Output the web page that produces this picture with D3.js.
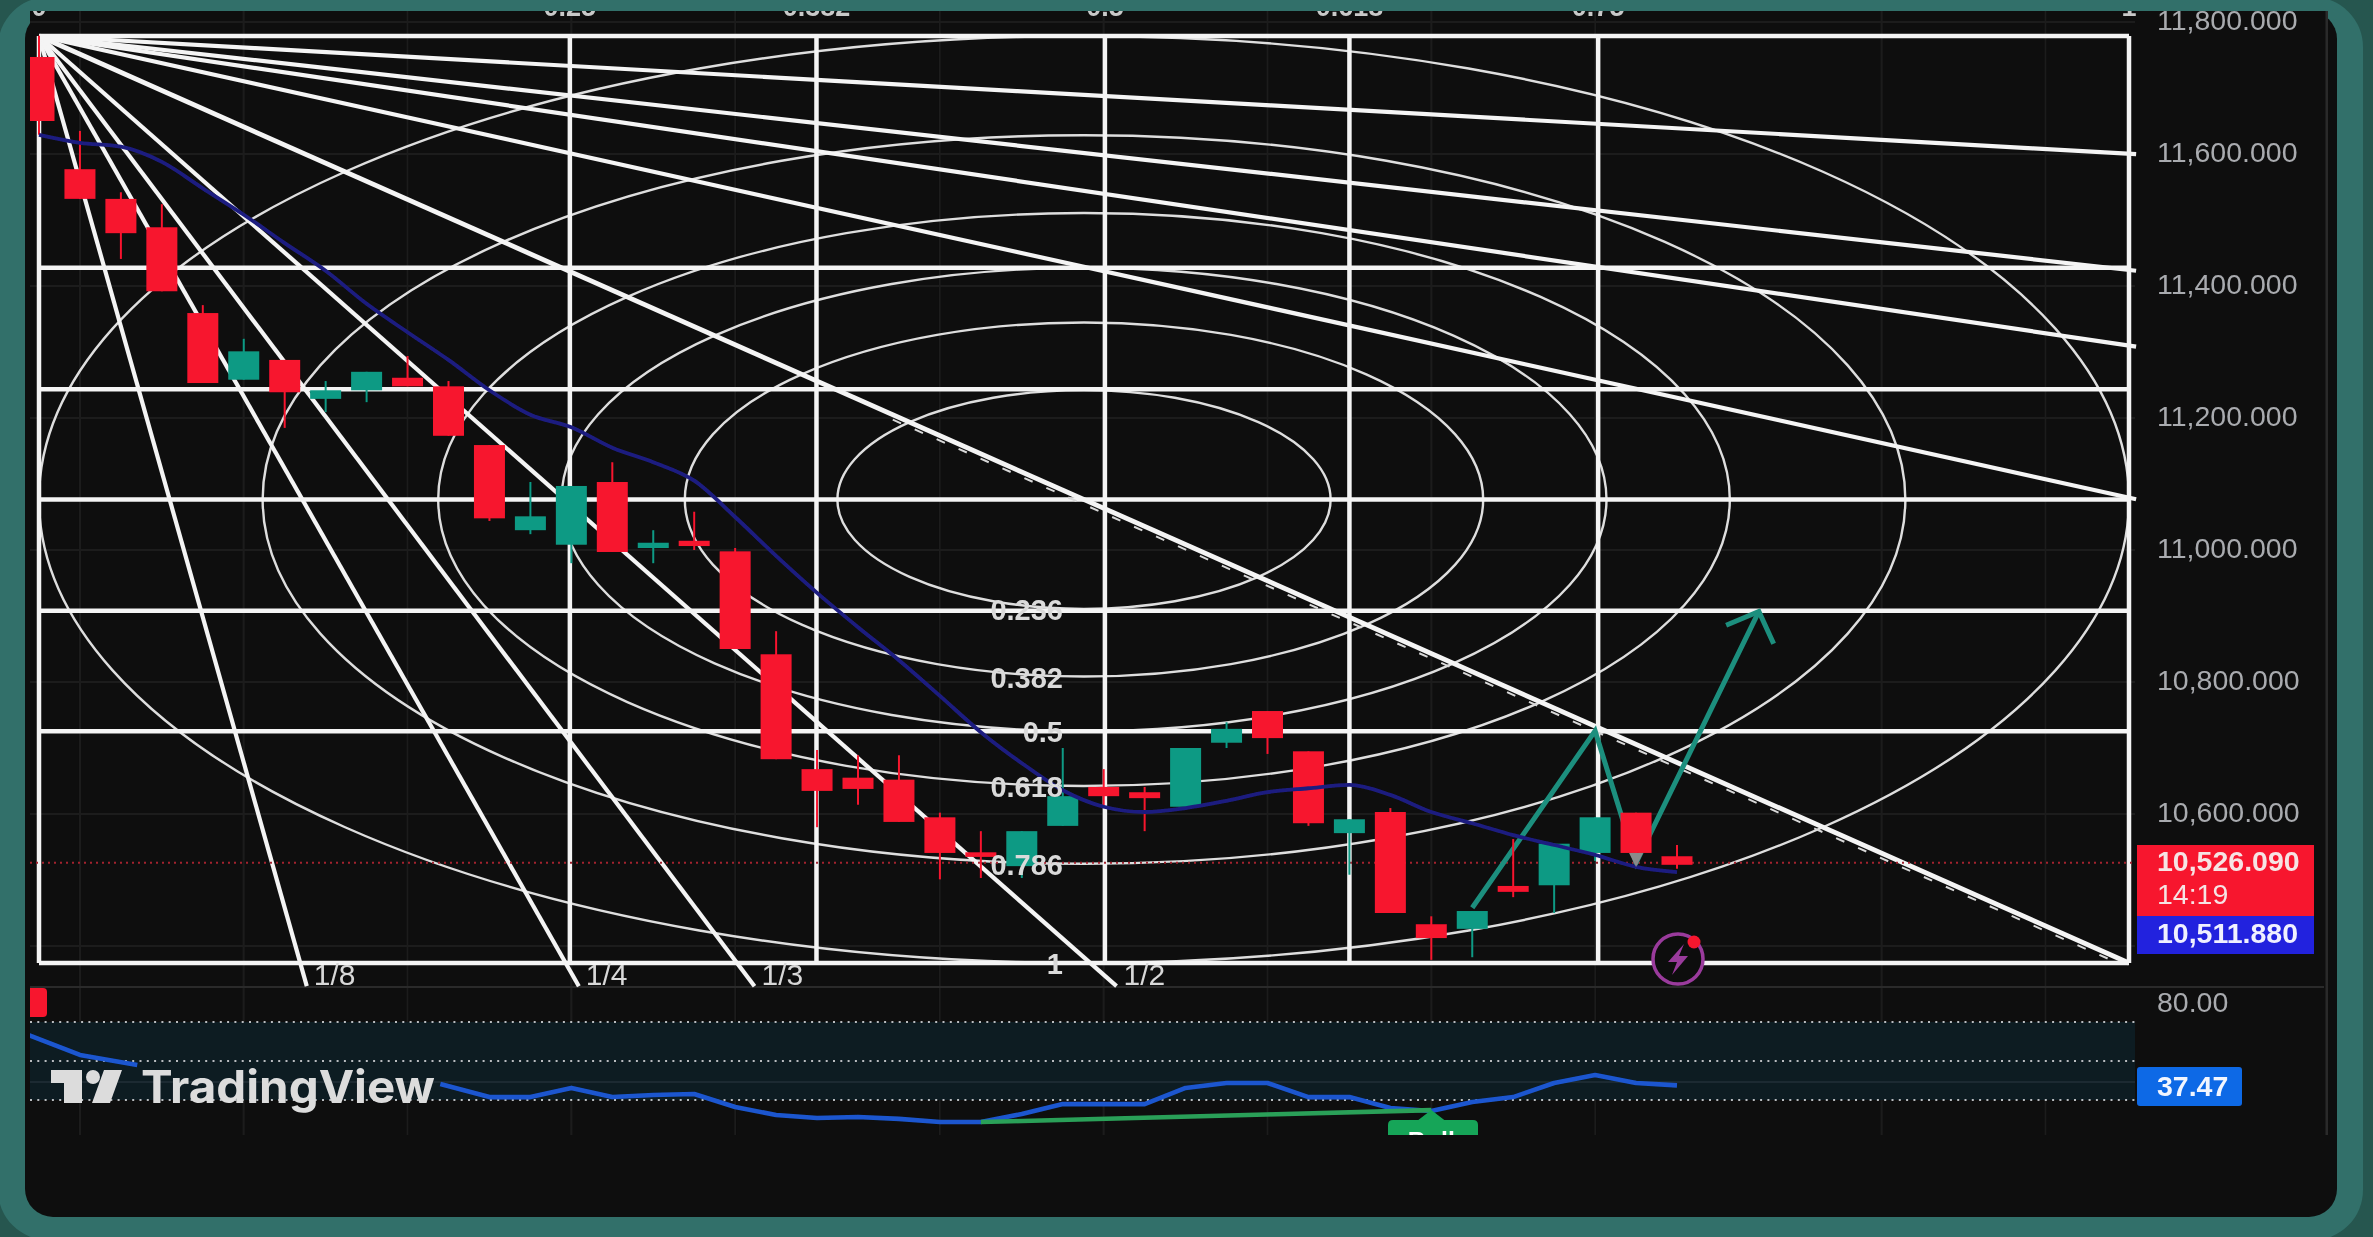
<!DOCTYPE html>
<html>
<head>
<meta charset="utf-8">
<script src="https://cdn.jsdelivr.net/npm/d3@7/dist/d3.min.js"></script>
<style>
  html, body { margin: 0; padding: 0; background: #26564f; overflow: hidden; }
  svg { display: block; }
  text { font-family: "Liberation Sans", sans-serif; }
</style>
</head>
<body>
<svg id="chart" width="2373" height="1237"></svg>
<script>
// candles, oldest first
const opens  = [11747,11577,11532,11489,11359,11258,11288,11229,11242,11261,11248,11159,11030,11008,11103,11003,11014,10998,10842,10668,10655,10652,10595,10542,10521,10582,10641,10633,10611,10708,10756,10695,10571,10603,10433,10426,10491,10492,10541,10602,10536];
const highs  = [11779,11635,11542,11524,11371,11320,11288,11256,11270,11294,11256,11159,11103,11097,11133,11030,11058,11003,10877,10697,10689,10689,10602,10574,10574,10700,10668,10641,10700,10739,10756,10695,10592,10609,10445,10453,10562,10555,10595,10602,10553];
const lows   = [11629,11532,11441,11392,11253,11258,11185,11209,11224,11248,11173,11044,11024,10980,10997,10980,11000,10850,10683,10580,10614,10588,10501,10503,10503,10582,10609,10574,10611,10700,10691,10582,10508,10450,10379,10383,10474,10450,10529,10521,10517];
const closes = [11650,11532,11480,11392,11253,11301,11239,11242,11270,11248,11173,11048,11051,11097,10997,11011,11006,10850,10683,10635,10638,10588,10541,10535,10574,10627,10627,10624,10700,10729,10715,10586,10592,10450,10412,10453,10482,10555,10595,10541,10523];
const maValues = [11629,11617,11611,11588,11548,11508,11465,11423,11373,11330,11288,11242,11205,11186,11155,11133,11105,11050,10991,10935,10883,10833,10779,10724,10677,10636,10611,10603,10609,10620,10633,10639,10644,10629,10603,10586,10568,10553,10538,10520,10512];

// rsi pane, null where the logo covers the line
const rsiBars   = [-0.25,1,2.4,null,9.8,11,12,13,14,15,16,17,18,19,20,21,22,23,24,25,26,27,28,29,30,31,32,33,34,35,36,37,38,39,40];
const rsiValues = [63.3,53.1,47.9,null,38.2,31.5,31.5,36.2,31.5,32.6,33.1,26.4,22.3,20.8,21.3,20.3,18.7,18.7,22.8,27.9,27.9,27.9,36.2,38.7,38.7,31.5,31.5,25.9,24.4,29.0,31.5,38.7,42.8,38.7,37.5];
const rsiBands = [70, 50, 30];

const priceTicks = [11800,11600,11400,11200,11000,10800,10600];
const priceGrid = [11800,11600,11400,11200,11000,10800,10600,10400];
const barGrid = [1,5,9,13,17,22,26,30,34,38,45,49];

// gann box
const boxTimeLevels  = [0,0.254,0.372,0.51,0.627,0.746,1];
const boxTimeLabels  = ["0","0.25","0.382","0.5","0.618","0.75","1"];
const boxPriceLevels = [0,0.25,0.381,0.5,0.62,0.75,1];
const fanBottomLevels = [0.125,0.252,0.334,0.503];
const fanRightLevels = [0.127,0.2524,0.334,0.498];
const fanLabels = ["1/8","1/4","1/3","1/2"];
const circleLevels = [0.236,0.382,0.5,0.618,0.786,1];
const circleLabels = ["0.236","0.382","0.5","0.618","0.786","1"];

// hand drawn arrow: [bar, price]
const arrowPath = [[35,10458],[38,10726],[39,10526],[42,10907]];
const arrowHead = [[41.2,10886],[42,10907],[42.36,10858]];
const divergence = [[23,18.7],[34,24.8]];

const C_UP = "#0b9a84";
const C_DOWN = "#f7142e";
const C_PANEL = "#0e0e0e";
const C_GANN = "#f4f4f4";
const C_AXIS = "#a9abaf";

const svg = d3.select("#chart");

const x = d3.scaleLinear().domain([0, 40]).range([39, 1677]);
const y = d3.scaleLinear().domain([10600, 11800]).range([814, 22]);
const yRsi = d3.scaleLinear().domain([30, 70]).range([1100, 1022]);
const boxX = d3.scaleLinear().domain([0, 1]).range([39, 2129]);
const boxY = d3.scaleLinear().domain([0, 1]).range([36, 963]);

// ===== Frame =====
svg.append("rect").attr("x", -2).attr("y", -3).attr("width", 2365).attr("height", 1243).attr("rx", 50).attr("fill", "#32706a");
svg.append("rect").attr("x", 25).attr("y", 11).attr("width", 2312).attr("height", 1206).attr("rx", 28).attr("fill", C_PANEL);
svg.append("rect").attr("x", 30).attr("y", 11).attr("width", 2298).attr("height", 1140).attr("fill", C_PANEL);

const defs = svg.append("defs");
defs.append("filter").attr("id", "soft").attr("x", "-2%").attr("y", "-2%").attr("width", "104%").attr("height", "104%")
  .append("feGaussianBlur").attr("stdDeviation", 0.7);
defs.append("clipPath").attr("id", "pane").append("rect").attr("x", 30).attr("y", 11).attr("width", 2298).attr("height", 1124);

const g = svg.append("g").attr("filter", "url(#soft)").attr("clip-path", "url(#pane)");

// ===== Faint grid =====
const gridG = g.append("g").attr("stroke", "#1b1b1b").attr("stroke-width", 2);
gridG.selectAll("line.v").data(barGrid).join("line").attr("class", "v")
  .attr("x1", d => x(d)).attr("x2", d => x(d)).attr("y1", 11).attr("y2", 1135);
gridG.selectAll("line.h").data(priceGrid).join("line").attr("class", "h")
  .attr("x1", 30).attr("x2", 2135).attr("y1", d => y(d)).attr("y2", d => y(d));

// pane separator and right border
g.append("line").attr("x1", 30).attr("x2", 2324).attr("y1", 987).attr("y2", 987).attr("stroke", "#2a2a2a").attr("stroke-width", 2);
g.append("line").attr("x1", 2327).attr("x2", 2327).attr("y1", 11).attr("y2", 1135).attr("stroke", "#2c2c2c").attr("stroke-width", 3);

// ===== RSI pane =====
g.append("rect").attr("x", 30).attr("width", 2105)
  .attr("y", yRsi(70)).attr("height", yRsi(30) - yRsi(70)).attr("fill", "#0b1a24");
g.append("g").selectAll("line").data(rsiBands).join("line")
  .attr("x1", 30).attr("x2", 2135).attr("y1", d => yRsi(d)).attr("y2", d => yRsi(d))
  .attr("stroke", "#b9bcbf").attr("stroke-width", 2).attr("stroke-dasharray", "2,5.3");
g.append("line").attr("x1", 30).attr("x2", 2135).attr("y1", 1082).attr("y2", 1082).attr("stroke", "#1f2a30").attr("stroke-width", 2);
g.append("rect").attr("x", 24).attr("y", 988).attr("width", 23).attr("height", 29).attr("rx", 4).attr("fill", C_DOWN);

const rsiLine = d3.line().defined(d => d[0] != null).x(d => x(d[0])).y(d => yRsi(d[1]));
g.append("path").datum(rsiBars.map((b, i) => [b, rsiValues[i]])).attr("d", rsiLine)
  .attr("fill", "none").attr("stroke", "#1b57cf").attr("stroke-width", 4.6).attr("stroke-linejoin", "round");

g.append("path").datum(divergence).attr("d", d3.line().x(d => x(d[0])).y(d => yRsi(d[1])))
  .attr("fill", "none").attr("stroke", "#2aa058").attr("stroke-width", 4.6);

// bull tag, cut off by the pane bottom
const bull = g.append("g");
bull.append("path").attr("d", `M${x(34)},1110 L${x(34) + 13},1120 L1473,1120 Q1478,1120 1478,1125 L1478,1140 L1388,1140 L1388,1125 Q1388,1120 1393,1120 L${x(34) - 13},1120 Z`)
  .attr("fill", "#16a558");
bull.append("text").attr("x", x(34)).attr("y", 1150).attr("text-anchor", "middle")
  .attr("fill", "#fff").attr("font-size", 25).attr("font-weight", 700).text("Bull");

// ===== Gann box =====
const gann = g.append("g").attr("fill", "none").attr("stroke", C_GANN);

gann.selectAll("ellipse").data(circleLevels).join("ellipse")
  .attr("cx", boxX(0.5)).attr("cy", boxY(0.5))
  .attr("rx", d => (boxX(1) - boxX(0)) / 2 * d).attr("ry", d => (boxY(1) - boxY(0)) / 2 * d)
  .attr("stroke", "#dedede").attr("stroke-width", 2.4);

gann.selectAll("line.gv").data(boxTimeLevels).join("line").attr("class", "gv")
  .attr("x1", d => boxX(d)).attr("x2", d => boxX(d)).attr("y1", boxY(0)).attr("y2", boxY(1))
  .attr("stroke-width", 4.5);
gann.selectAll("line.gh").data(boxPriceLevels).join("line").attr("class", "gh")
  .attr("x1", boxX(0)).attr("x2", boxX(1)).attr("y1", d => boxY(d)).attr("y2", d => boxY(d))
  .attr("stroke-width", 4.5);

// fans to the bottom edge, slightly past the box
gann.selectAll("line.fb").data(fanBottomLevels).join("line").attr("class", "fb")
  .attr("x1", boxX(0)).attr("y1", boxY(0))
  .attr("x2", d => boxX(d * 1.025)).attr("y2", boxY(1.025))
  .attr("stroke-width", 4.2);
gann.selectAll("line.fr").data(fanRightLevels).join("line").attr("class", "fr")
  .attr("x1", boxX(0)).attr("y1", boxY(0))
  .attr("x2", boxX(1.0034)).attr("y2", d => boxY(d * 1.0034))
  .attr("stroke-width", 4.2);
gann.append("line").attr("x1", boxX(0)).attr("y1", boxY(0)).attr("x2", boxX(1)).attr("y2", boxY(1))
  .attr("stroke-width", 4.8);
gann.append("line").attr("x1", boxX(0.4085)).attr("y1", boxY(0.4085) + 5).attr("x2", boxX(0.995)).attr("y2", boxY(0.995) + 5)
  .attr("stroke-width", 2).attr("stroke-dasharray", "9,15").attr("stroke", "#d8d8d8");

// box labels
g.append("g").selectAll("text").data(boxTimeLevels).join("text")
  .attr("x", d => boxX(d)).attr("y", 16).attr("text-anchor", "middle")
  .attr("fill", "#c9c9c9").attr("font-size", 27).attr("font-weight", 700)
  .text((d, i) => boxTimeLabels[i]);
g.append("g").selectAll("text").data(fanBottomLevels).join("text")
  .attr("x", d => boxX(d * 1.025) + 7).attr("y", 985)
  .attr("fill", "#d8d8d8").attr("font-size", 30)
  .text((d, i) => fanLabels[i]);

// ===== Current price line =====
g.append("line").attr("x1", 30).attr("x2", 2135).attr("y1", y(10526.09)).attr("y2", y(10526.09))
  .attr("stroke", "#a3202f").attr("stroke-width", 2).attr("stroke-dasharray", "2,4");

// ===== Hand drawn arrow =====
const arrowLine = d3.line().x(d => x(d[0])).y(d => y(d[1]));
g.append("path").datum(arrowPath).attr("d", arrowLine).attr("fill", "none").attr("stroke", "#1d8f7e").attr("stroke-width", 5);
g.append("path").datum(arrowHead).attr("d", arrowLine).attr("fill", "none").attr("stroke", "#1d8f7e").attr("stroke-width", 5);

// ===== Candles =====
const candles = opens.map((o, i) => ({ i, o, h: highs[i], l: lows[i], c: closes[i] }));
const candleG = g.append("g").selectAll("g").data(candles).join("g")
  .attr("fill", d => d.c >= d.o ? C_UP : C_DOWN)
  .attr("stroke", d => d.c >= d.o ? C_UP : C_DOWN);
candleG.append("line")
  .attr("x1", d => x(d.i)).attr("x2", d => x(d.i))
  .attr("y1", d => y(d.h)).attr("y2", d => y(d.l))
  .attr("stroke-width", 2);
candleG.append("rect")
  .attr("x", d => x(d.i) - 15.5).attr("width", 31)
  .attr("y", d => y(Math.max(d.o, d.c)))
  .attr("height", d => Math.max(3, Math.abs(y(d.o) - y(d.c))))
  .attr("stroke", "none");

// ===== Moving average =====
g.append("path").datum(maValues)
  .attr("d", d3.line().x((d, i) => x(i)).y(d => y(d)).curve(d3.curveMonotoneX))
  .attr("fill", "none").attr("stroke", "#1d1d80").attr("stroke-width", 3.8);

// arrow tip poking out under the red candle
g.append("path").attr("d", `M${x(39) - 7},853 L${x(39) + 7},853 L${x(39)},867 Z`).attr("fill", "#8a8a8a");

// circle labels sit on top of everything
g.append("g").selectAll("text").data(circleLevels).join("text")
  .attr("x", 1063)
  .attr("y", d => boxY(0.5) + (boxY(1) - boxY(0)) / 2 * d + 11)
  .attr("text-anchor", "end")
  .attr("fill", "#dadada").attr("font-size", 29).attr("font-weight", 700)
  .text((d, i) => circleLabels[i]);

// ===== Flash icon =====
const flash = g.append("g");
flash.append("circle").attr("cx", 1678).attr("cy", 959).attr("r", 25).attr("fill", C_PANEL)
  .attr("stroke", "#9a3a9c").attr("stroke-width", 3.5);
flash.append("path").attr("d", "M1684,944 L1668,962 L1677,962 L1672,975 L1688,956 L1679,956 Z").attr("fill", "#9a3a9c");
flash.append("circle").attr("cx", 1694).attr("cy", 942).attr("r", 6.5).attr("fill", C_DOWN);

// ===== TradingView logo =====
const logo = g.append("g").attr("fill", "#dcdcdc");
logo.append("path").attr("d", "M51,1070 L82,1070 L82,1103 L64,1103 L64,1083 L51,1083 Z");
logo.append("circle").attr("cx", 93).attr("cy", 1077).attr("r", 7);
logo.append("path").attr("d", "M104,1070 L122,1070 L110,1103 L92,1103 Z");
logo.append("text").attr("x", 141).attr("y", 1103)
  .attr("font-size", 45).attr("font-weight", 700).style("font-family", "Inter, sans-serif")
  .attr("textLength", 294).attr("lengthAdjust", "spacingAndGlyphs").text("TradingView");

// ===== Price axis =====
const axisG = svg.append("g").attr("filter", "url(#soft)");
axisG.selectAll("text.tick").data(priceTicks).join("text").attr("class", "tick")
  .attr("x", 2157).attr("y", d => y(d) + 8)
  .attr("fill", C_AXIS).attr("font-size", 28.5)
  .text(d => d3.format(",.3f")(d));

axisG.append("rect").attr("x", 2137).attr("y", 845).attr("width", 177).attr("height", 71).attr("fill", C_DOWN);
axisG.append("rect").attr("x", 2137).attr("y", 916).attr("width", 177).attr("height", 38).attr("fill", "#2020de");
axisG.append("text").attr("x", 2157).attr("y", 871).attr("fill", "#f6e4e4").attr("font-size", 28.5).attr("font-weight", 700).text("10,526.090");
axisG.append("text").attr("x", 2157).attr("y", 904).attr("fill", "#f6e4e4").attr("font-size", 28.5).text("14:19");
axisG.append("text").attr("x", 2157).attr("y", 943).attr("fill", "#f0f0ff").attr("font-size", 28.5).attr("font-weight", 700).text("10,511.880");

axisG.append("text").attr("x", 2157).attr("y", yRsi(80) + 9).attr("fill", C_AXIS).attr("font-size", 28.5).text("80.00");
axisG.append("rect").attr("x", 2137).attr("y", 1067).attr("width", 105).attr("height", 39).attr("rx", 3).attr("fill", "#0f69e6");
axisG.append("text").attr("x", 2157).attr("y", 1096).attr("fill", "#f2f6ff").attr("font-size", 28.5).attr("font-weight", 700).text("37.47");
</script>
</body>
</html>
